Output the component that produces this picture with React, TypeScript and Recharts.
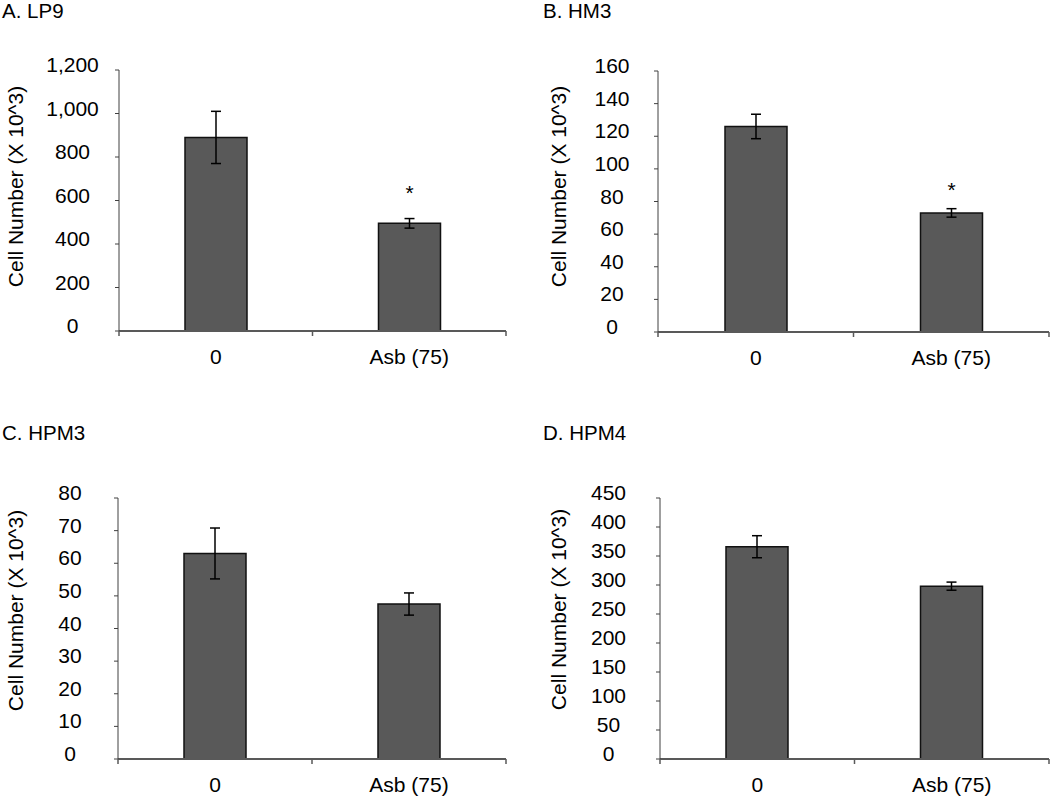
import { BarChart, Bar, XAxis, YAxis, ErrorBar, LabelList } from "recharts"

const categories = ["0", "Asb (75)"]

const lp9Values = [890, 495]
const lp9Errors = [120, 22]
const lp9Marks = ["", "*"]
const lp9Ticks = [0, 200, 400, 600, 800, 1000, 1200]

const hm3Values = [126, 73]
const hm3Errors = [7.5, 2.6]
const hm3Marks = ["", "*"]
const hm3Ticks = [0, 20, 40, 60, 80, 100, 120, 140, 160]

const hpm3Values = [63, 47.5]
const hpm3Errors = [7.8, 3.4]
const hpm3Marks = ["", ""]
const hpm3Ticks = [0, 10, 20, 30, 40, 50, 60, 70, 80]

const hpm4Values = [366, 298]
const hpm4Errors = [19, 7]
const hpm4Marks = ["", ""]
const hpm4Ticks = [0, 50, 100, 150, 200, 250, 300, 350, 400, 450]

const FONT = "'Liberation Sans', Arial, sans-serif"
const X_AXIS_H = 36

const toRows = (values: number[], errors: number[], marks: string[]) =>
  categories.map((name, i) => ({ name, value: values[i], err: errors[i], mark: marks[i] }))

function YTitle({ viewBox, cx, dy }: any) {
  const cy = viewBox.y + viewBox.height / 2 + dy
  return (
    <text
      x={cx}
      y={cy}
      transform={`rotate(-90 ${cx} ${cy})`}
      textAnchor="middle"
      dominantBaseline="central"
      fontFamily={FONT}
      fontSize={21}
      fill="#000"
    >
      Cell Number (X 10^3)
    </text>
  )
}

function Panel({ title, rows, ticks, lay }: any) {
  const band = (lay.pr - lay.pl) / categories.length

  const yTick = ({ x, y, payload }: any) => (
    <text x={x} y={y} dy={2} textAnchor="middle" fontFamily={FONT} fontSize={21} fill="#000">
      {Number(payload.value).toLocaleString("en-US")}
    </text>
  )

  const xTick = ({ x, y, payload, index }: any) => (
    <g>
      {index === 0 && <line x1={x - band / 2} x2={x - band / 2} y1={y} y2={y + 5} stroke="#595959" strokeWidth={1.5} />}
      <line x1={x + band / 2} x2={x + band / 2} y1={y} y2={y + 5} stroke="#595959" strokeWidth={1.5} />
      <text x={x} y={y + 33} textAnchor="middle" fontFamily={FONT} fontSize={21} fill="#000">
        {payload.value}
      </text>
    </g>
  )

  return (
    <div style={{ position: "absolute", left: lay.left, top: lay.top, width: lay.w, height: lay.h }}>
      <div
        style={{
          position: "absolute",
          left: lay.titleX,
          top: lay.titleY,
          fontFamily: FONT,
          fontSize: 20.5,
          lineHeight: "22px",
          color: "#000",
          whiteSpace: "nowrap",
        }}
      >
        {title}
      </div>
      <BarChart
        width={lay.w}
        height={lay.h}
        data={rows}
        margin={{ top: lay.pt, right: lay.w - lay.pr, left: 0, bottom: lay.h - lay.pb - X_AXIS_H }}
      >
        <XAxis
          dataKey="name"
          height={X_AXIS_H}
          tickLine={false}
          tickSize={0}
          tickMargin={0}
          axisLine={{ stroke: "#595959", strokeWidth: 2 }}
          tick={xTick}
          interval={0}
        />
        <YAxis
          width={lay.pl}
          domain={[0, ticks[ticks.length - 1]]}
          ticks={ticks}
          interval={0}
          tickSize={4}
          tickMargin={lay.tickGap - 4}
          tickLine={{ stroke: "#404040" }}
          axisLine={{ stroke: "#404040", strokeWidth: 1 }}
          tick={yTick}
          label={<YTitle cx={lay.labelX} dy={lay.labelDy} />}
        />
        <Bar dataKey="value" fill="#595959" stroke="#111" strokeWidth={1.5} barSize={62} isAnimationActive={false}>
          <ErrorBar dataKey="err" width={5} stroke="#000" strokeWidth={1.5} direction="y" />
          <LabelList dataKey="mark" position="top" offset={lay.starOffset} fontFamily={FONT} fontSize={21} fill="#000" />
        </Bar>
      </BarChart>
    </div>
  )
}

export default function App() {
  return (
    <div style={{ position: "absolute", left: 0, top: 0, width: 1050, height: 796, background: "#fff", overflow: "hidden" }}>
      <Panel
        title="A. LP9"
        rows={toRows(lp9Values, lp9Errors, lp9Marks)}
        ticks={lp9Ticks}
        lay={{ left: 0, top: 0, w: 525, h: 396, pl: 119, pr: 506, pt: 70, pb: 331, labelX: 15, labelDy: -14, tickGap: 46.5, starOffset: 23, titleX: 2, titleY: 0 }}
      />
      <Panel
        title="B. HM3"
        rows={toRows(hm3Values, hm3Errors, hm3Marks)}
        ticks={hm3Ticks}
        lay={{ left: 530, top: 0, w: 520, h: 396, pl: 128, pr: 519, pt: 71, pb: 332, labelX: 28, labelDy: -15, tickGap: 46, starOffset: 16, titleX: 13, titleY: 0 }}
      />
      <Panel
        title="C. HPM3"
        rows={toRows(hpm3Values, hpm3Errors, hpm3Marks)}
        ticks={hpm3Ticks}
        lay={{ left: 0, top: 400, w: 525, h: 396, pl: 118, pr: 506, pt: 98, pb: 359, labelX: 15, labelDy: -18, tickGap: 48, starOffset: 16, titleX: 2, titleY: 22 }}
      />
      <Panel
        title="D. HPM4"
        rows={toRows(hpm4Values, hpm4Errors, hpm4Marks)}
        ticks={hpm4Ticks}
        lay={{ left: 530, top: 400, w: 520, h: 396, pl: 130, pr: 519, pt: 98, pb: 359, labelX: 28, labelDy: -19, tickGap: 51.5, starOffset: 16, titleX: 13, titleY: 22 }}
      />
    </div>
  )
}
